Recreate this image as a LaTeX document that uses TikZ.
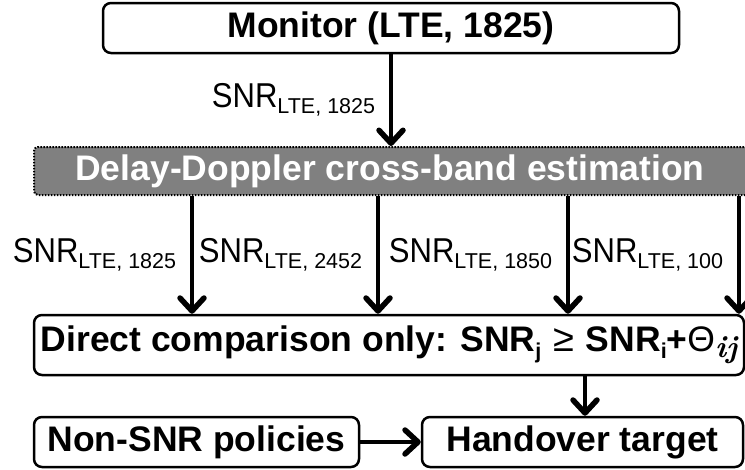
\documentclass[tikz,border=0pt]{standalone}
\usepackage{fontspec}
\setmainfont{Liberation Sans}
\newfontfamily\condsans{Liberation Sans}[FakeStretch=0.9]
\newfontfamily\lmr{Latin Modern Roman}
\usetikzlibrary{arrows.meta}
\definecolor{estgray}{HTML}{808080}

% subscript set below the baseline, as in SNR_{LTE, 1825}
\newcommand{\lowsub}[2][-6pt]{\raisebox{#1}{\fontsize{21.5}{22}\selectfont #2}}
\newcommand{\snrlabel}[1]{{\condsans SNR}\lowsub{LTE, #1}}

\tikzset{
  box/.style={draw=black, line width=2.5pt, rounded corners=8pt, inner sep=0pt,
              font=\fontsize{35.5}{40}\selectfont\bfseries},
  estbox/.style={box, fill=estgray, text=white, line width=2pt, rounded corners=4pt,
                 dash pattern=on 1.6pt off 1.4pt},
  flow/.style={line width=3.8pt,
               -{Straight Barb[length=13pt,width=24pt,line width=5.5pt,round]}},
  snr/.style={inner sep=0pt, anchor=east, xshift=-14pt,
              font=\fontsize{34.5}{36}\selectfont},
}

\begin{document}
\begin{tikzpicture}[x=1pt, y=-1pt]
  \useasboundingbox (0,0) rectangle (745,469);
  \clip (0,0) rectangle (745,469);

  % boxes
  \node[box, minimum width=576pt, minimum height=50pt] (mon) at (391,28)
    {Monitor (LTE, 1825)};
  \node[estbox, minimum width=726pt, minimum height=48pt] (est) at (397,171)
    {\hspace*{-14pt}Delay-Doppler cross-band estimation};
  \node[box, minimum width=710pt, minimum height=60pt] (cmp) at (389,345)
    {Direct comparison only: SNR\lowsub[-7pt]{j}\hspace{2pt} {\mdseries\fontsize{38}{40}\selectfont ≥}\hspace{2pt} SNR\lowsub[-7pt]{i}+{\mdseries Θ}\raisebox{-6pt}{\fontsize{31}{31}\selectfont\lmr\itshape ij}};
  \node[box, minimum width=325pt, minimum height=50pt] (pol) at (196.5,442)
    {Non-SNR policies};
  \node[box, minimum width=321pt, minimum height=50pt] (ho) at (582.5,442)
    {Handover target};

  % arrow columns
  \coordinate (c1) at (192,0);
  \coordinate (c2) at (378,0);
  \coordinate (c3) at (568,0);
  \coordinate (c4) at (739,0);
  \coordinate (c5) at (585,0);

  % connectors
  \draw[flow] (mon.south) -- node[snr] {\snrlabel{1825}} (mon.south |- est.north);
  \draw[flow] (est.south -| c1) -- node[snr] {\snrlabel{1825}} (cmp.north -| c1);
  \draw[flow] (est.south -| c2) -- node[snr] {\snrlabel{2452}} (cmp.north -| c2);
  \draw[flow] (est.south -| c3) -- node[snr] {\snrlabel{1850}} (cmp.north -| c3);
  \draw[flow] (est.south -| c4) -- node[snr] {\snrlabel{100}} (cmp.north -| c4);
  \draw[flow] (cmp.south -| c5) -- (ho.north -| c5);
  \draw[flow] (pol.east) -- (ho.west);
\end{tikzpicture}
\end{document}
